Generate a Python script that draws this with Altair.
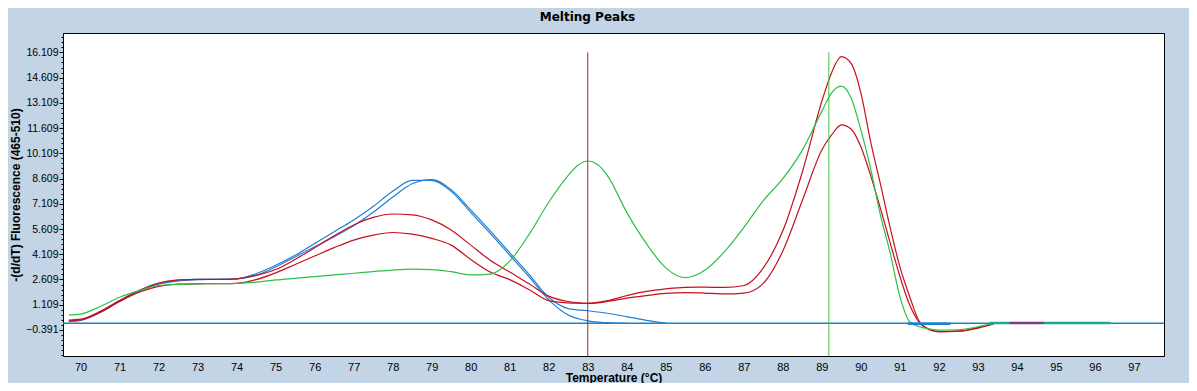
import altair as alt
import pandas as pd

# ---------------- data ----------------
T_BLUE_A = [69.7, 70, 70.5, 71, 71.5, 72, 72.5, 73, 73.5, 74, 74.5, 75, 75.5, 76, 76.5,
            77, 77.5, 78, 78.5, 79, 79.5, 80, 80.5, 81, 81.5, 82, 82.5, 83, 83.5, 84]
V_BLUE_A = [0.15, 0.2, 0.7, 1.35, 1.95, 2.38, 2.56, 2.62, 2.62, 2.65, 2.95, 3.45, 4.05, 4.75, 5.45,
            6.15, 6.95, 7.85, 8.5, 8.5, 7.85, 6.6, 5.35, 4.05, 2.75, 1.4, 0.5, 0.15, 0.04, 0.0]

T_BLUE_B = [69.7, 70, 70.5, 71, 71.5, 72, 72.5, 73, 73.5, 74, 74.5, 75, 75.5, 76, 76.5,
            77, 77.5, 78, 78.5, 79, 79.5, 80, 80.5, 81, 81.5, 82, 82.5, 83, 83.5, 84, 84.5, 85]
V_BLUE_B = [0.1, 0.18, 0.65, 1.3, 1.9, 2.33, 2.52, 2.6, 2.62, 2.64, 2.85, 3.35, 3.95, 4.55, 5.15,
            5.8, 6.6, 7.5, 8.3, 8.55, 7.95, 6.75, 5.5, 4.2, 2.9, 1.55, 0.88, 0.75, 0.6, 0.4, 0.18, 0.02]

T_RG = [69.7, 70, 70.5, 71, 71.5, 72, 72.5, 73, 73.5, 74, 74.5, 75, 75.5, 76, 76.5, 77, 77.5,
        78, 78.5, 79, 79.5, 80, 80.5, 81, 81.5, 82, 82.5, 82.75, 83, 83.25, 83.5, 84, 84.5,
        85, 85.5, 86, 86.5, 87, 87.5, 88, 88.5, 89, 89.25, 89.5, 89.75, 90, 90.25, 90.5,
        90.75, 91, 91.25, 91.5, 91.75, 92, 92.5, 93, 93.4]
V_RED_1 = [0.2, 0.25, 0.7, 1.35, 1.95, 2.4, 2.58, 2.62, 2.62, 2.65, 2.85, 3.2, 3.8, 4.5, 5.2, 5.85, 6.3,
           6.5, 6.45, 6.15, 5.55, 4.65, 3.75, 3.05, 2.35, 1.62, 1.3, 1.22, 1.19, 1.25, 1.35, 1.65, 1.9,
           2.05, 2.14, 2.15, 2.14, 2.25, 3.3, 5.5, 9.0, 13.2, 14.9, 15.85, 15.45, 13.7, 10.8, 8.3,
           5.7, 3.37, 1.6, 0.1, -0.35, -0.48, -0.45, -0.25, -0.02]
V_RED_2 = [0.15, 0.2, 0.65, 1.3, 1.85, 2.2, 2.33, 2.35, 2.36, 2.38, 2.6, 3.0, 3.5, 4.0, 4.5, 4.95, 5.25,
           5.4, 5.3, 5.05, 4.65, 3.8, 3.05, 2.6, 2.0, 1.35, 1.22, 1.2, 1.19, 1.22, 1.3, 1.5, 1.65,
           1.78, 1.83, 1.8, 1.75, 1.8, 2.38, 4.3, 7.3, 10.3, 11.2, 11.8, 11.55, 10.5, 8.8, 6.85,
           4.8, 2.8, 1.1, 0.05, -0.38, -0.5, -0.47, -0.28, -0.03]
V_GREEN = [0.5, 0.55, 1.0, 1.55, 1.95, 2.25, 2.32, 2.35, 2.36, 2.38, 2.45, 2.58, 2.68, 2.78, 2.88, 2.98, 3.08,
           3.17, 3.22, 3.2, 3.07, 2.88, 2.93, 3.7, 5.3, 7.2, 8.8, 9.4, 9.65, 9.45, 8.8, 6.6, 4.75,
           3.3, 2.72, 3.15, 4.25, 5.7, 7.3, 8.6, 10.3, 12.6, 13.7, 14.1, 13.4, 11.5, 9.2, 6.45,
           4.2, 1.6, 0.1, -0.2, -0.33, -0.4, -0.38, -0.2, 0.0]

SERIES = ["Blue A", "Blue B", "Red 1", "Red 2", "Green"]
SERIES_COLORS = ["#1f7fd4", "#1f7fd4", "#c8101c", "#c8101c", "#2cc048"]

# short traces lying on the zero line
SEG_START = [91.2, 93.3, 93.8, 94.7]
SEG_END = [92.3, 93.8, 94.7, 96.4]
SEG_VALUE = [-0.03, 0.02, 0.02, 0.02]
SEG_COLOR = ["#1f7fd4", "#18a89c", "#803c84", "#18a89c"]

# temperature cursors
MARK_T = [83.0, 89.18]
MARK_COLOR = ["#a8281e", "#40c43c"]

X_TICKS = list(range(70, 98))
Y_TICKS = [-0.391, 1.109, 2.609, 4.109, 5.609, 7.109, 8.609, 10.109, 11.609, 13.109, 14.609, 16.109]
X_DOMAIN = [69.55, 97.77]
Y_DOMAIN = [-1.94, 17.26]

# ---------------- tables ----------------
rows = []
for name, ts, vs in [("Blue A", T_BLUE_A, V_BLUE_A), ("Blue B", T_BLUE_B, V_BLUE_B),
                     ("Red 1", T_RG, V_RED_1), ("Red 2", T_RG, V_RED_2), ("Green", T_RG, V_GREEN)]:
    for t, v in zip(ts, vs):
        rows.append({"series": name, "T": t, "v": v})
curves = pd.DataFrame(rows)

seg_rows = []
for i, (a, b, v, c) in enumerate(zip(SEG_START, SEG_END, SEG_VALUE, SEG_COLOR)):
    seg_rows.append({"seg": i, "T": a, "v": v, "c": c})
    seg_rows.append({"seg": i, "T": b, "v": v, "c": c})
segs = pd.DataFrame(seg_rows)

marks = pd.DataFrame({"T": MARK_T, "c": MARK_COLOR,
                      "v": [Y_TICKS[-1]] * len(MARK_T), "bottom": [Y_DOMAIN[0]] * len(MARK_T)})

minor = [round(Y_TICKS[0] + 0.3 * k, 3) for k in range(-5, 59)]

xs = alt.Scale(domain=X_DOMAIN, nice=False, zero=False)
ys = alt.Scale(domain=Y_DOMAIN, nice=False, zero=False)

major_test = ("datum.value > -0.5 && "
              "abs((datum.value + 0.391) / 1.5 - round((datum.value + 0.391) / 1.5)) < 0.01")

x_axis = alt.Axis(values=X_TICKS, title="Temperature (°C)", grid=False, domain=False, ticks=False,
                  labelFont="Liberation Sans", labelFontSize=11, labelColor="black", labelPadding=5,
                  titleFont="Liberation Sans", titleFontSize=12, titleFontWeight="bold",
                  titleColor="black", titlePadding=0, labelOverlap=False)
y_axis = alt.Axis(values=minor, title="-(d/dT) Fluorescence (465-510)", grid=False, domain=False,
                  tickColor="black", tickWidth=1,
                  tickSize={"condition": {"test": major_test, "value": 4}, "value": 2},
                  labelExpr=f"({major_test}) ? format(datum.value, '.3f') : ''",
                  labelFont="Liberation Sans", labelFontSize=10.5, labelColor="black", labelPadding=1,
                  titleFont="Liberation Sans", titleFontSize=12, titleFontWeight="bold",
                  titleColor="black", titlePadding=3, labelOverlap=False)

X = alt.X("T:Q", scale=xs, axis=x_axis)
Y = alt.Y("v:Q", scale=ys, axis=y_axis)

lines = alt.Chart(curves).mark_line(strokeWidth=1.2, interpolate="monotone").encode(
    x=X, y=Y,
    color=alt.Color("series:N", scale=alt.Scale(domain=SERIES, range=SERIES_COLORS), legend=None),
    detail="series:N",
    order="T:Q",
)

base_line = alt.Chart(pd.DataFrame({"v": [0.0]})).mark_rule(color="#1f82c8", strokeWidth=1.5).encode(
    y=Y
)

seg_lines = alt.Chart(segs).mark_line(strokeWidth=2.5).encode(
    x=X, y=Y,
    color=alt.Color("c:N", scale=None, legend=None),
    detail="seg:N",
)

cursors = alt.Chart(marks).mark_rule(strokeWidth=1).encode(
    x=X, y=Y,
    y2="bottom:Q",
    color=alt.Color("c:N", scale=None, legend=None),
)

chart = alt.layer(lines, base_line, seg_lines, cursors).properties(
    width=1101, height=323,
    padding={"left": 55, "top": 25, "right": 25, "bottom": 27},
    autosize=alt.AutoSizeParams(type="none"),
    background="#c2d4e5",
    title=alt.TitleParams("Melting Peaks", font="DejaVu Sans", fontSize=12, fontWeight="bold",
                          color="black", anchor="middle", offset=8, dx=-26),
).configure_view(stroke="black", strokeWidth=1, fill="white")

chart.save("out.html", embed_options={"renderer": "svg", "actions": False})
